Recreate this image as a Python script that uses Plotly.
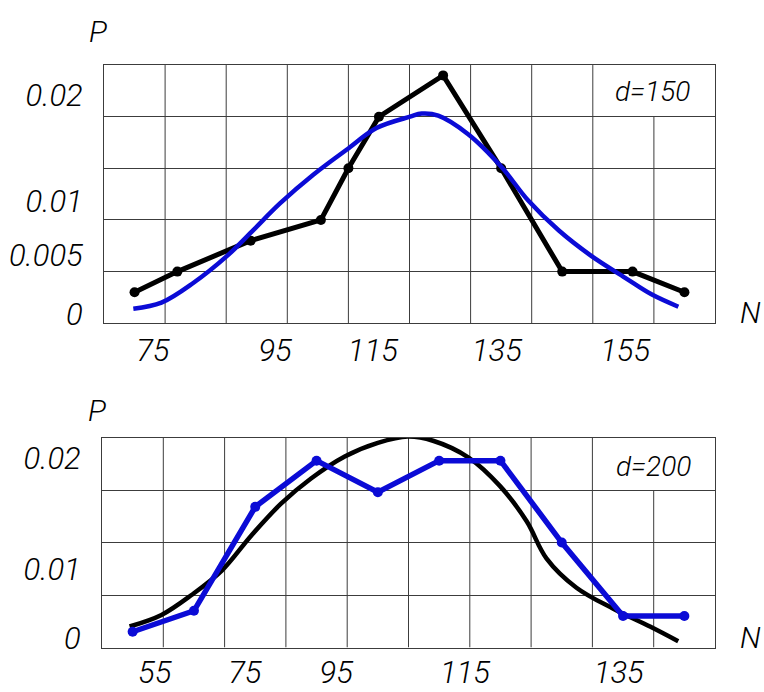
import plotly.graph_objects as go

# ---------------- data ----------------
# top panel, d=150
top_obs_N = [75, 82, 94, 105.5, 110, 115, 125.5, 135, 145, 156.5, 165]
top_obs_P = [0.003, 0.005, 0.008, 0.010, 0.015, 0.020, 0.024, 0.015, 0.005, 0.005, 0.003]
top_fit_N = [74.8, 79.4, 84.6, 90.1, 94.4, 98.8, 104.3, 109.7, 114.6, 120.1, 122.0,
             124.7, 129.6, 135.1, 139.4, 144.4, 149.8, 155.3, 159.6, 164.0]
top_fit_P = [0.0014, 0.0020, 0.0039, 0.0065, 0.0090, 0.0116, 0.0144, 0.0168, 0.0189, 0.0200, 0.0203,
             0.0201, 0.0183, 0.0151, 0.0119, 0.0090, 0.0065, 0.0044, 0.0028, 0.0016]

# bottom panel, d=200
bot_obs_N = [55, 65, 75, 85, 95, 105, 115, 125, 135, 145]
bot_obs_P = [0.0015, 0.0035, 0.0134, 0.0178, 0.0148, 0.0178, 0.0178, 0.0100, 0.0030, 0.0030]
bot_fit_N = [54.5, 59.7, 64.6, 69.5, 74.4, 79.2, 84.1, 89.6, 95.0, 99.9, 104.0,
             109.8, 114.9, 119.3, 122.5, 127.4, 133.4, 139.4, 144.0]
bot_fit_P = [0.0020, 0.0031, 0.0050, 0.0073, 0.0107, 0.0137, 0.0161, 0.0182, 0.0195, 0.0201, 0.0197,
             0.0181, 0.0154, 0.0120, 0.0085, 0.0057, 0.0037, 0.0020, 0.0006]

# tick labels (as hand-placed in the drawing)
top_xtick_text = ["75", "95", "115", "135", "155"]
top_xtick_pos = [78.0, 98.0, 114.0, 134.3, 155.3]
top_ytick_text = ["0", "0.005", "0.01", "0.02"]
top_ytick_pos = [0.00086, 0.00658, 0.01183, 0.02204]

bot_xtick_text = ["55", "75", "95", "115", "135"]
bot_xtick_pos = [58.6, 73.3, 88.2, 109.2, 134.3]
bot_ytick_text = ["0", "0.01", "0.02"]
bot_ytick_pos = [0.00094, 0.00742, 0.01803]

# vertical grid lines (N) and the height each one reaches (P)
top_vgrid_N = [80, 90, 100, 110, 120, 130, 140, 150, 160]
top_vgrid_top = [0.025, 0.025, 0.025, 0.025, 0.025, 0.025, 0.025, 0.025, 0.020]
bot_vgrid_N = [60, 70, 80, 90, 100, 110, 120, 130, 140]
bot_vgrid_top = [0.020, 0.020, 0.020, 0.020, 0.020, 0.020, 0.020, 0.020, 0.015]

# ---------------- styling ----------------
W, H = 764, 692
FAM = "Roboto, 'Liberation Sans', sans-serif"
TICKFONT = dict(family=FAM, size=31, color="black", style="italic", weight=300)
LABFONT = dict(family=FAM, size=30, color="black", style="italic", weight=300)
GRID = "#3c3c3c"
BLUE = "#0b0bd6"

fig = go.Figure()

fig.add_trace(go.Scatter(x=top_obs_N, y=top_obs_P, xaxis="x", yaxis="y", mode="lines+markers",
                         line=dict(color="black", width=5), marker=dict(color="black", size=10),
                         showlegend=False))
fig.add_trace(go.Scatter(x=top_fit_N, y=top_fit_P, xaxis="x", yaxis="y", mode="lines",
                         line=dict(color=BLUE, width=4.5, shape="spline"), showlegend=False))
fig.add_trace(go.Scatter(x=bot_fit_N, y=bot_fit_P, xaxis="x2", yaxis="y2", mode="lines",
                         line=dict(color="black", width=4.5, shape="spline"), showlegend=False))
fig.add_trace(go.Scatter(x=bot_obs_N, y=bot_obs_P, xaxis="x2", yaxis="y2", mode="lines+markers",
                         line=dict(color=BLUE, width=5.5), marker=dict(color=BLUE, size=10),
                         showlegend=False))

shapes = []
for gx, gt in zip(top_vgrid_N, top_vgrid_top):
    shapes.append(dict(type="line", xref="x", yref="y", x0=gx, x1=gx, y0=0, y1=gt,
                       line=dict(color=GRID, width=1), layer="below"))
for gx, gt in zip(bot_vgrid_N, bot_vgrid_top):
    shapes.append(dict(type="line", xref="x2", yref="y2", x0=gx, x1=gx, y0=0, y1=gt,
                       line=dict(color=GRID, width=1), layer="below"))


def xax(domain, rng, pos, text, anchor, standoff):
    return dict(domain=domain, range=rng, anchor=anchor, tickmode="array", tickvals=pos,
                ticktext=text, showgrid=False, zeroline=False, showline=True, mirror=True,
                linecolor=GRID, linewidth=1, ticks="", tickfont=TICKFONT,
                ticklabelstandoff=standoff, fixedrange=True)


def yax(domain, rng, pos, text, anchor):
    return dict(domain=domain, range=rng, anchor=anchor, tickmode="array", tickvals=pos,
                ticktext=text, showgrid=False, zeroline=False, showline=True, mirror=True,
                linecolor=GRID, linewidth=1, ticks="", tickfont=TICKFONT, ticklabelstandoff=14,
                minor=dict(tickmode="linear", tick0=0, dtick=0.005, showgrid=True,
                           gridcolor=GRID, gridwidth=1, ticks=""),
                fixedrange=True)


fig.update_layout(
    width=W, height=H, autosize=False,
    margin=dict(l=0, r=0, t=0, b=0),
    paper_bgcolor="white", plot_bgcolor="white",
    xaxis=xax([104 / W, 715 / W], [70, 170], top_xtick_pos, top_xtick_text, "y", 0),
    yaxis=yax([1 - 328 / H, 1 - 66 / H], [0, 0.025], top_ytick_pos, top_ytick_text, "x"),
    xaxis2=xax([102 / W, 715 / W], [50, 150], bot_xtick_pos, bot_xtick_text, "y2", -3),
    yaxis2=yax([1 - 657 / H, 1 - 444 / H], [0, 0.020], bot_ytick_pos, bot_ytick_text, "x2"),
    shapes=shapes,
    annotations=[
        dict(text="P", xref="paper", yref="paper", x=98 / W, y=1 - 32 / H, showarrow=False,
             font=LABFONT, xanchor="center", yanchor="middle"),
        dict(text="N", xref="paper", yref="paper", x=750 / W, y=1 - 317 / H, showarrow=False,
             font=LABFONT, xanchor="center", yanchor="middle"),
        dict(text="P", xref="paper", yref="paper", x=97 / W, y=1 - 417 / H, showarrow=False,
             font=LABFONT, xanchor="center", yanchor="middle"),
        dict(text="N", xref="paper", yref="paper", x=750 / W, y=1 - 647 / H, showarrow=False,
             font=LABFONT, xanchor="center", yanchor="middle"),
        dict(text="d=150", xref="x", yref="y", x=159.7, y=0.0224, showarrow=False,
             font=dict(LABFONT, size=28), xanchor="center", yanchor="middle"),
        dict(text="d=200", xref="x2", yref="y2", x=139.9, y=0.0172, showarrow=False,
             font=dict(LABFONT, size=28), xanchor="center", yanchor="middle"),
    ],
)

fig.write_html("out.html", config={"displayModeBar": False, "staticPlot": True},
               post_script="document.body.style.margin='0';document.body.style.overflow='hidden';")
